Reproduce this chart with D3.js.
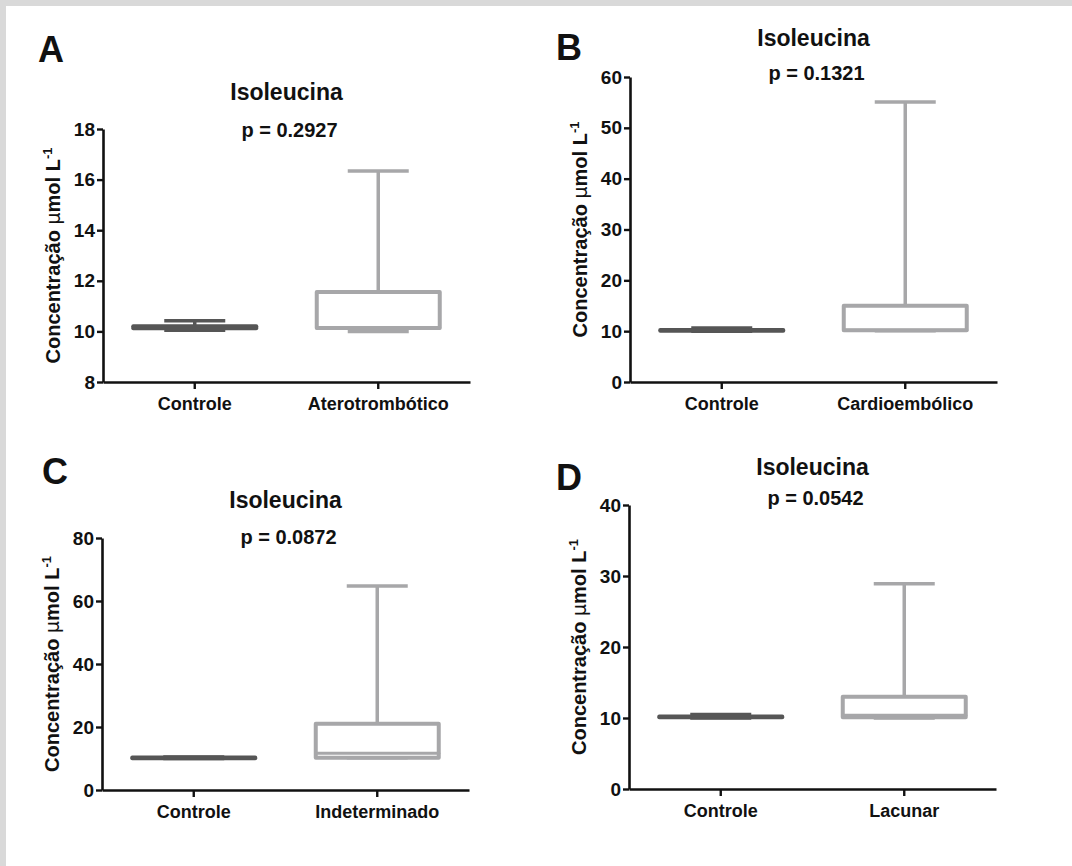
<!DOCTYPE html>
<html>
  <head>
    <meta charset="utf-8">
    <title>Isoleucina boxplots</title>
    <script type="text/javascript" src="https://cdn.jsdelivr.net/npm/d3@7"></script>
    <style type="text/css">
      body { margin: 0; background: #fff; }
      text { font-family: "Liberation Sans", Arial, sans-serif; font-weight: bold; fill: #111; }
    </style>
  </head>
  <body>
    <script type="text/javascript">
      var w = 1072;
      var h = 866;

      // dados de cada painel
      var letters = ["A", "B", "C", "D"];
      var categories = [
        ["Controle", "Aterotrombótico"],
        ["Controle", "Cardioembólico"],
        ["Controle", "Indeterminado"],
        ["Controle", "Lacunar"]
      ];
      var pValues = ["p = 0.2927", "p = 0.1321", "p = 0.0872", "p = 0.0542"];
      var yDomains = [[8, 18], [0, 60], [0, 80], [0, 40]];
      var yTicks = [
        [8, 10, 12, 14, 16, 18],
        [0, 10, 20, 30, 40, 50, 60],
        [0, 20, 40, 60, 80],
        [0, 10, 20, 30, 40]
      ];
      // [min, q1, mediana, q3, max]
      var controleStats = [
        [10.05, 10.12, 10.17, 10.2, 10.42],
        [10.0, 10.1, 10.2, 10.25, 10.6],
        [10.0, 10.1, 10.2, 10.3, 10.5],
        [10.0, 10.1, 10.15, 10.2, 10.5]
      ];
      var casoStats = [
        [10.0, 10.13, 10.13, 11.56, 16.34],
        [10.1, 10.2, 10.2, 15.0, 55.1],
        [10.2, 10.2, 11.7, 21.0, 64.8],
        [10.0, 10.1, 10.4, 13.0, 28.9]
      ];

      // posicao de cada painel (eixo y em x0, topo e base)
      var layout = [
        { x0: 103, top: 129, bottom: 382, titleY: 100, pY: 137, lx: 38, ly: 62 },
        { x0: 630, top: 77, bottom: 382, titleY: 46, pY: 80, lx: 556, ly: 60 },
        { x0: 102, top: 538, bottom: 790, titleY: 508, pY: 544, lx: 42, ly: 484 },
        { x0: 629, top: 505, bottom: 789, titleY: 475, pY: 505, lx: 556, ly: 490 }
      ];
      var plotW = 367;
      var colors = ["#565656", "#a7a7a9"];

      var svg = d3.select("body")
                  .append("svg")
                  .attr("width", w)
                  .attr("height", h);

      // moldura cinza
      svg.append("rect").attr("width", w).attr("height", h).attr("fill", "#d9d9d9");
      svg.append("rect").attr("x", 6).attr("y", 6).attr("width", w - 6).attr("height", h - 6).attr("fill", "#fff");

      letters.forEach(function(letter, i) {
        var L = layout[i];
        var g = svg.append("g").attr("transform", "translate(" + L.x0 + ",0)");

        var y = d3.scaleLinear().domain(yDomains[i]).range([L.bottom, L.top]);
        var x = d3.scaleBand().domain(categories[i]).range([0, plotW]);
        var boxW = 123, capW = 61;

        // eixos
        var yAxis = g.append("g")
          .call(d3.axisLeft(y).tickValues(yTicks[i]).tickSize(6).tickSizeOuter(0).tickPadding(2));
        var xAxis = g.append("g")
          .attr("transform", "translate(0," + L.bottom + ")")
          .call(d3.axisBottom(x).tickSize(7).tickSizeOuter(0).tickPadding(6));
        [yAxis, xAxis].forEach(function(a) {
          a.select(".domain").attr("stroke", "#111").attr("stroke-width", 2.6);
          a.selectAll(".tick line").attr("stroke", "#111").attr("stroke-width", 2.4);
        });
        yAxis.selectAll(".tick text").attr("font-size", "19px").attr("font-family", "Liberation Sans, Arial").attr("font-weight", "bold").attr("fill", "#111");
        xAxis.selectAll(".tick text").attr("font-size", "18px").attr("font-family", "Liberation Sans, Arial").attr("font-weight", "bold").attr("fill", "#222").attr("dy", "0.85em");

        // caixas
        var stats = [controleStats[i], casoStats[i]];
        var boxes = g.selectAll("g.box")
          .data(stats)
          .enter()
          .append("g")
          .attr("class", "box")
          .attr("stroke", function(d, j) { return colors[j]; })
          .attr("stroke-width", 4)
          .attr("fill", "none")
          .attr("stroke-linejoin", "round")
          .attr("stroke-linecap", "round");

        boxes.each(function(d, j) {
          var cx = x(categories[i][j]) + x.bandwidth() / 2;
          var b = d3.select(this);
          // bigodes
          b.append("line").attr("x1", cx).attr("x2", cx).attr("y1", y(d[3])).attr("y2", y(d[4])).attr("stroke-width", 3.5).attr("stroke-linecap", "butt");
          b.append("line").attr("x1", cx).attr("x2", cx).attr("y1", y(d[1])).attr("y2", y(d[0])).attr("stroke-width", 3.5).attr("stroke-linecap", "butt");
          b.append("line").attr("x1", cx - capW / 2).attr("x2", cx + capW / 2).attr("y1", y(d[4])).attr("y2", y(d[4])).attr("stroke-width", 3.5).attr("stroke-linecap", "butt");
          b.append("line").attr("x1", cx - capW / 2).attr("x2", cx + capW / 2).attr("y1", y(d[0])).attr("y2", y(d[0])).attr("stroke-width", 3.5).attr("stroke-linecap", "butt");
          // caixa
          b.append("rect")
            .attr("x", cx - boxW / 2)
            .attr("y", y(d[3]))
            .attr("width", boxW)
            .attr("height", Math.max(y(d[1]) - y(d[3]), 0.5))
            .attr("fill", "#fff");
          // mediana
          b.append("line").attr("x1", cx - boxW / 2).attr("x2", cx + boxW / 2).attr("y1", y(d[2])).attr("y2", y(d[2])).attr("stroke-width", 3);
        });

        // titulo e p
        g.append("text")
          .attr("x", plotW / 2).attr("y", L.titleY)
          .attr("text-anchor", "middle")
          .attr("font-size", "23px")
          .text("Isoleucina");
        g.append("text")
          .attr("x", plotW / 2 + 3).attr("y", L.pY)
          .attr("text-anchor", "middle")
          .attr("font-size", "20px")
          .text(pValues[i]);

        // rotulo do eixo y
        var yl = g.append("text")
          .attr("transform", "translate(-43," + ((L.top + L.bottom) / 2) + ") rotate(-90)")
          .attr("text-anchor", "middle")
          .attr("font-size", "20px");
        yl.append("tspan").text("Concentração ");
        yl.append("tspan").attr("font-weight", "normal").attr("font-family", "DejaVu Sans").attr("font-size", "19px").text("μ");
        yl.append("tspan").text("mol L");
        yl.append("tspan").attr("font-size", "13px").attr("dy", "-8").text("-1");

        // letra do painel
        svg.append("text")
          .attr("x", L.lx).attr("y", L.ly)
          .attr("font-family", "Open Sans, Liberation Sans")
          .attr("font-size", "36px")
          .attr("font-weight", "bold")
          .text(letter);
      });
    </script>
  </body>
</html>
